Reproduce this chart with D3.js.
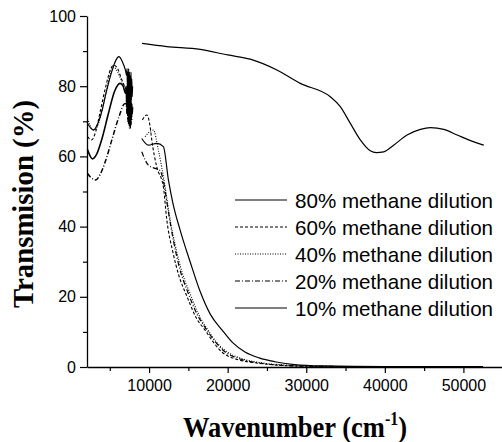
<!DOCTYPE html>
<html><head><meta charset="utf-8">
<script src="https://cdn.jsdelivr.net/npm/d3@7"></script>
<style>body{margin:0;background:#fff} svg{display:block}</style>
</head><body><svg id="c" width="502" height="442"></svg>
<script>
const seriesNames = ["80% methane dilution","60% methane dilution","40% methane dilution","20% methane dilution","10% methane dilution"];
const xTicks = [10000,20000,30000,40000,50000];
const xMinorTicks = [5000,15000,25000,35000,45000];
const yTicks = [0,20,40,60,80,100];
const yMinorTicks = [10,30,50,70,90];

// [wavenumber (cm-1), transmission (%)]
const s80Left = [[2150,69.5],[2900,67.5],[3500,69.5],[4000,73],[4520,78],[5300,84.5],[5800,87.5],[6150,88.4],[6600,87],[7000,84.5],[7150,83],[7200,85],[7250,79],[7300,84],[7350,78],[7400,85],[7450,77],[7500,84],[7550,76],[7600,83],[7650,77],[7700,84],[7750,76],[7800,82],[7850,77],[7900,80]];
const s80Right = [[9100,92.2],[12250,91.3],[16500,90.5],[20000,88.9],[22870,87.7],[26270,84.6],[29240,80.8],[33060,77.0],[34330,74.2],[35610,69.4],[36880,64.7],[38150,61.6],[38920,61.1],[39850,61.3],[41120,63.2],[42830,66.1],[44530,67.7],[45800,68.2],[47500,67.7],[49200,66.1],[50900,64.5],[52170,63.5],[52590,63.2]];

const s60Left = [[2150,65.6],[2700,64.7],[3200,67],[3800,73],[4500,80],[5100,84.8],[5500,86],[6000,85],[6500,82],[7000,79.5],[7500,78],[7800,78.5]];
const s60Right = [[9150,70.4],[9710,71.8],[10130,68.5],[10340,64.7],[10980,57],[11820,51.3],[12250,42],[13000,33],[13800,26],[14840,20],[16000,14],[17130,10.5],[18200,7],[19300,4.2],[21000,2.3],[23500,1.2],[26000,0.6],[30000,0.2],[40000,0.1],[52500,0.1]];

const s40Left = [[2150,70.8],[3000,67.5],[3500,69],[4100,74],[4700,80],[5200,84.5],[5500,85.5],[6000,84],[6600,81],[7200,79],[7700,78]];
const s40Right = [[9490,65.6],[10550,67.5],[11180,61.8],[12040,51.3],[12600,43],[13400,34],[14200,27],[15200,21],[16300,15],[17500,10.5],[18600,7],[19800,4.5],[21500,2.6],[24000,1.3],[27000,0.6],[31000,0.2],[40000,0.1],[52500,0.1]];

const s20Left = [[2150,55.2],[2500,54.2],[3200,53.3],[3800,55],[4500,59],[5300,65],[6200,71.5],[6900,75],[7100,75],[7200,72],[7250,76],[7300,70],[7350,75],[7400,69],[7450,74],[7500,68],[7550,74],[7600,68],[7650,73],[7700,69],[7750,72],[7800,70]];
const s20Right = [[9070,61.3],[9910,57.5],[10760,56.6],[11400,56],[11900,52],[12400,45],[13100,36],[13900,28],[14900,21.5],[16000,15.5],[17300,10.7],[18500,7],[19600,4.4],[21300,2.5],[23800,1.2],[27000,0.5],[31000,0.2],[40000,0.1],[52500,0.1]];

const s10Left = [[2150,62],[2800,59.3],[3300,60.5],[4000,65],[4800,72],[5600,78.5],[6300,80.8],[6700,80],[7000,78],[7100,80],[7150,74],[7200,79],[7250,73],[7300,79],[7350,72],[7400,78],[7450,71],[7500,78],[7550,70],[7600,77],[7650,70],[7700,76],[7750,71],[7800,75],[7850,72],[7900,74]];
const s10Right = [[9070,65.1],[9910,63.2],[10980,63.7],[11820,62.8],[12460,53.3],[13000,47],[13950,39],[15220,30],[16500,21.5],[17800,15],[19300,10.5],[20600,7],[22200,4.3],[24000,2.6],[26000,1.5],[28500,0.7],[32000,0.3],[40000,0.1],[52500,0.1]];

const seriesParts = [
  [s80Left, s80Right],
  [s60Left, s60Right],
  [s40Left, s40Right],
  [s20Left, s20Right],
  [s10Left, s10Right]
];
const dashes = [null, "3,2", "1,1.5", "5,2,1,2", null];
const widths = [1.2, 1.1, 1.1, 1.5, 1.6];

const svg = d3.select("#c");
const x = d3.scaleLinear().domain([2100, 55000]).range([87, 502.7]);
const y = d3.scaleLinear().domain([0, 100]).range([367, 16]);
const sans = "'Liberation Sans', Arial, sans-serif";
const serif = "'Liberation Serif', 'Times New Roman', serif";

// axes
const gx = svg.append("g").attr("transform", "translate(0,367)")
  .call(d3.axisBottom(x).tickValues(xTicks).tickFormat(d3.format("d")).tickSize(6).tickSizeOuter(0).tickPadding(7));
const gxm = svg.append("g").attr("transform", "translate(0,367)")
  .call(d3.axisBottom(x).tickValues(xMinorTicks).tickFormat("").tickSize(4).tickSizeOuter(0));
const gy = svg.append("g").attr("transform", "translate(87,0)")
  .call(d3.axisLeft(y).tickValues(yTicks).tickSize(7).tickSizeOuter(0).tickPadding(4));
const gym = svg.append("g").attr("transform", "translate(87,0)")
  .call(d3.axisLeft(y).tickValues(yMinorTicks).tickFormat("").tickSize(4).tickSizeOuter(0));
[gx, gxm, gy, gym].forEach(g => {
  g.selectAll("path.domain").attr("stroke", "#000").attr("stroke-width", 1.3);
  g.selectAll("line").attr("stroke", "#000").attr("stroke-width", 1.2);
  g.selectAll("text").attr("fill", "#000").style("font-family", sans).style("font-size", "16px");
});
gxm.select("path.domain").remove();
gym.select("path.domain").remove();

// curves
const line = d3.line().x(d => x(d[0])).y(d => y(d[1])).curve(d3.curveMonotoneX);
seriesParts.forEach((parts, i) => {
  parts.forEach((p, k) => {
    svg.append("path").attr("d", line(p)).attr("fill", "none")
      .attr("stroke", "#000").attr("stroke-width", k === 0 ? widths[i] : Math.min(widths[i], 1.2))
      .attr("stroke-dasharray", dashes[i]);
  });
});

// legend
const lg = svg.append("g");
seriesNames.forEach((name, i) => {
  const yy = 200 + i * 27;
  lg.append("line").attr("x1", 235).attr("x2", 287).attr("y1", yy).attr("y2", yy)
    .attr("stroke", "#000").attr("stroke-width", i === 0 || i === 4 ? 1.2 : 1.1)
    .attr("stroke-dasharray", dashes[i]);
  lg.append("text").attr("x", 295).attr("y", yy + 7.5).text(name)
    .style("font-family", sans).style("font-size", "20.6px").attr("fill", "#000");
});

// axis titles
function fitText(g, targetW) {
  const bb = g.node().getBBox();
  return targetW / bb.width;
}
const xt = svg.append("text").attr("text-anchor", "middle")
  .style("font-family", serif).style("font-weight", "bold").style("font-size", "30px");
xt.append("tspan").text("Wavenumber (cm");
xt.append("tspan").text("-1").style("font-size", "18px").attr("dy", -12);
xt.append("tspan").text(")").attr("dy", 12);
const sx = fitText(xt, 224);
xt.attr("transform", `translate(295,436.5) scale(${sx},1)`);

const yt = svg.append("text").attr("text-anchor", "middle")
  .style("font-family", serif).style("font-weight", "bold").style("font-size", "30px")
  .text("Transmision (%)");
const sy = fitText(yt, 208);
yt.attr("transform", `translate(33,204) rotate(-90) scale(${sy},1)`);
</script>
</body></html>
